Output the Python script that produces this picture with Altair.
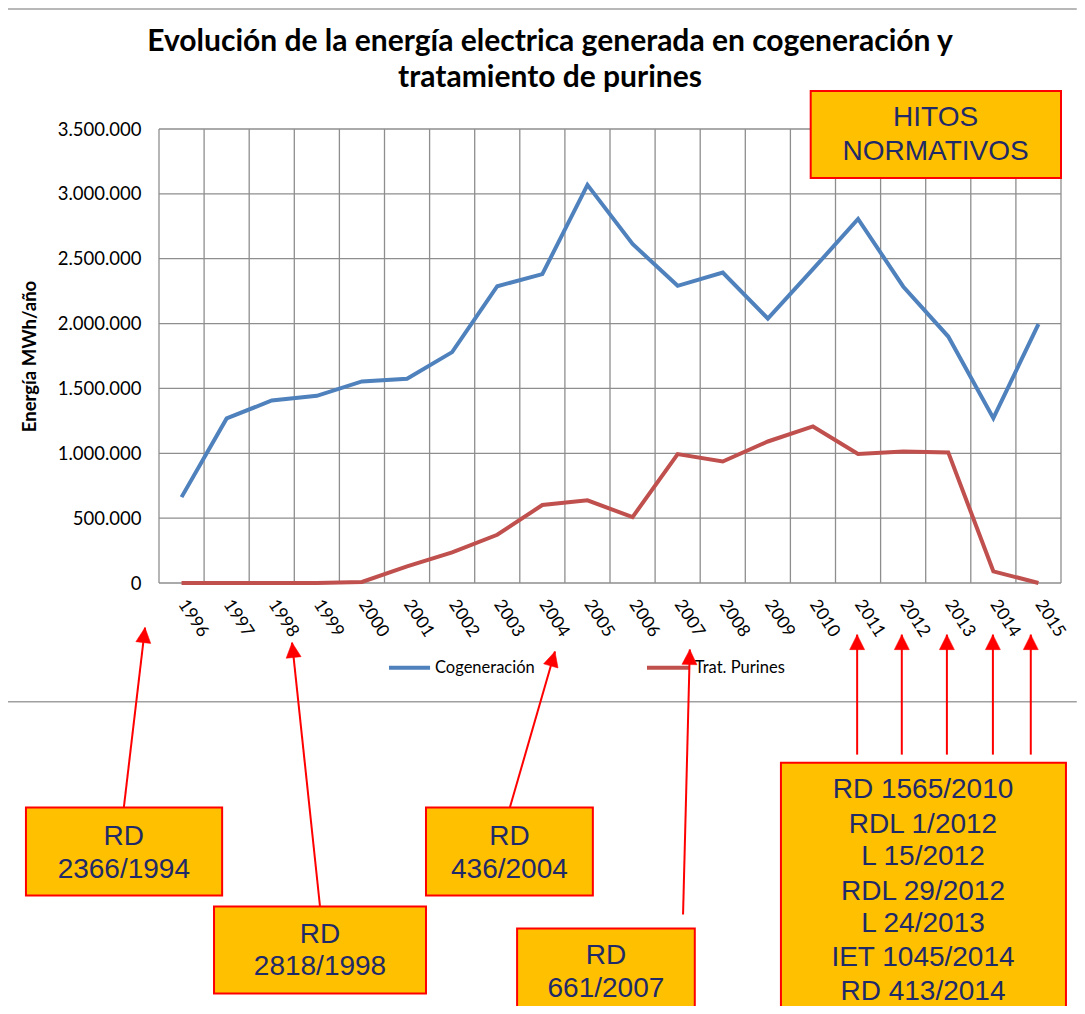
import altair as alt
import pandas as pd

# ---------------- data ----------------
years = list(range(1996, 2016))
cogeneracion = [662000, 1269000, 1407000, 1443000, 1554000, 1574000, 1780000, 2288000,
                2381000, 3069000, 2614000, 2291000, 2393000, 2039000, 2419000, 2807000,
                2286000, 1900000, 1271000, 1995000]
purines = [0, 0, 0, 0, 8000, 128000, 236000, 372000, 601000, 637000, 508000, 994000,
           937000, 1091000, 1207000, 994000, 1014000, 1007000, 90000, 0]
series_names = ["Cogeneración", "Trat. Purines"]
series_colors = ["#4F81BD", "#C0504D"]
y_ticks = [0, 500000, 1000000, 1500000, 2000000, 2500000, 3000000, 3500000]
title_lines = ["Evolución de la energía electrica generada en cogeneración y",
               "tratamiento de purines"]
title_x = 2004.17
title_y = [4171000, 3894000]

# annotation boxes (positions in chart units: year, MWh)
box_x1 = [2009.95, 1992.55, 1996.72, 2001.42, 2003.44, 2009.29]
box_x2 = [2015.50, 1996.90, 2001.42, 2005.12, 2007.38, 2015.61]
box_y1 = [3793000, -1731000, -2494000, -1731000, -2663000, -1385000]
box_y2 = [3122000, -2409000, -3164000, -2409000, -3450000, -3450000]

box_text = ["HITOS", "NORMATIVOS",
            "RD", "2366/1994",
            "RD", "2818/1998",
            "RD", "436/2004",
            "RD", "661/2007",
            "RD 1565/2010", "RDL 1/2012", "L 15/2012", "RDL 29/2012",
            "L 24/2013", "IET 1045/2014", "RD 413/2014"]
box_text_x = [2012.72, 2012.72, 1994.72, 1994.72, 1999.07, 1999.07, 2003.27, 2003.27,
              2005.41, 2005.41] + [2012.44] * 7
box_text_y = [3585000, 3323000, -1955000, -2209000, -2710000, -2964000, -1955000, -2209000,
              -2879000, -3133000, -1593000, -1863000, -2110000, -2379000, -2626000,
              -2888000, -3150000]

# arrows: base -> tip
arrow_base_x = [1994.72, 1999.07, 2003.28, 2007.12, 2010.98, 2011.97, 2012.97, 2013.99, 2014.83]
arrow_base_y = [-1731000, -2494000, -1731000, -2556000, -1323000, -1323000, -1323000, -1323000, -1323000]
arrow_tip_x = [1995.19, 1998.45, 2004.28, 2007.27, 2010.98, 2011.97, 2012.97, 2013.99, 2014.83]
arrow_tip_y = [-344000, -459000, -528000, -513000, -398000, -398000, -398000, -398000, -398000]
arrow_angle = [6.6, 353.9, 16.1, 1.5, 0, 0, 0, 0, 0]

# legend placement (chart units)
legend_x1 = [2000.60, 2006.32]
legend_x2 = [2001.51, 2007.27]
legend_text_x = [2001.62, 2007.38]
legend_y = -653000

# separator lines
sep_x1, sep_x2 = 1992.15, 2015.85
sep_y = [-915000, 4425000]

# ---------------- tables ----------------
df = pd.DataFrame({
    "year": years * 2,
    "value": cogeneracion + purines,
    "serie": [series_names[0]] * len(years) + [series_names[1]] * len(years),
})
boxes = pd.DataFrame({"x1": box_x1, "x2": box_x2, "y1": box_y1, "y2": box_y2})
texts = pd.DataFrame({"x": box_text_x, "y": box_text_y, "t": box_text})
titles = pd.DataFrame({"x": [title_x] * 2, "y": title_y, "t": title_lines})
arrows = pd.DataFrame({"bx": arrow_base_x, "by": arrow_base_y, "tx": arrow_tip_x,
                       "ty": arrow_tip_y, "a": arrow_angle})
leg = pd.DataFrame({"serie": series_names, "x1": legend_x1, "x2": legend_x2,
                    "tx": legend_text_x, "y": [legend_y] * 2})
vgrid = pd.DataFrame({"g": [y - 0.5 for y in years] + [years[-1] + 0.5]})
hgrid = pd.DataFrame({"v": y_ticks})
seps = pd.DataFrame({"x1": [sep_x1] * 2, "x2": [sep_x2] * 2, "y": sep_y})

# ---------------- scales & axes (shared by every layer) ----------------
FONT = "Lato"
BOXFONT = "Liberation Sans"
GRID = "#8E8E8E"
NAVY = "#1F2A68"

xs = alt.Scale(domain=[1995.5, 2015.5], nice=False, zero=False)
ys = alt.Scale(domain=[0, 3500000], nice=False, zero=False)
cs = alt.Scale(domain=series_names, range=series_colors)

x_axis = alt.Axis(values=years, format="d", labelAngle=57, labelAlign="left",
                  labelBaseline="middle", ticks=False, domain=False, grid=False,
                  title=None, labelFont=FONT, labelFontSize=17.5, labelColor="black",
                  labelPadding=18, labelOverlap=False, labelFlush=False)
y_axis = alt.Axis(values=y_ticks,
                  labelExpr="replace(replace(format(datum.value, ','), ',', '.'), ',', '.')",
                  ticks=False, domain=False, grid=False,
                  title="Energía MWh/año", titleFont=FONT, titleFontSize=18.5,
                  titleFontWeight="bold", titleColor="black", titlePadding=18,
                  labelFont=FONT, labelFontSize=18.5, labelColor="black",
                  labelPadding=18, labelFlush=False)


def X(field):
    return alt.X(field, scale=xs, axis=x_axis)


def Y(field):
    return alt.Y(field, scale=ys, axis=y_axis)


grid_v = alt.Chart(vgrid).mark_rule(color=GRID, strokeWidth=1.3).encode(x=X("g:Q"))
grid_h = alt.Chart(hgrid).mark_rule(color=GRID, strokeWidth=1.3).encode(y=Y("v:Q"))

lines = alt.Chart(df).mark_line(strokeWidth=4).encode(
    x=X("year:Q"), y=Y("value:Q"),
    color=alt.Color("serie:N", scale=cs, legend=None),
    detail="serie:N",
)

sep_lines = alt.Chart(seps).mark_rule(color="#A0A0A0", strokeWidth=1.5).encode(
    x=X("x1:Q"), x2="x2:Q", y=Y("y:Q"))

leg_lines = alt.Chart(leg).mark_rule(strokeWidth=4).encode(
    x=X("x1:Q"), x2="x2:Q", y=Y("y:Q"),
    color=alt.Color("serie:N", scale=cs, legend=None))
leg_text = alt.Chart(leg).mark_text(align="left", baseline="middle", font=FONT,
                                    fontSize=16.5, color="black").encode(
    x=X("tx:Q"), y=Y("y:Q"), text="serie:N")

arrow_lines = alt.Chart(arrows).mark_rule(color="#FF0000", strokeWidth=2).encode(
    x=X("bx:Q"), x2="tx:Q", y=Y("by:Q"), y2="ty:Q")
arrow_heads = alt.Chart(arrows).mark_point(
    shape="M0,0L-1,2L1,2Z", filled=True, fill="#FF0000", stroke="#FF0000",
    strokeWidth=0.5, size=225, opacity=1).encode(
    x=X("tx:Q"), y=Y("ty:Q"), angle=alt.Angle("a:Q", scale=None))

box_rects = alt.Chart(boxes).mark_rect(fill="#FFC000", stroke="#FF0000", strokeWidth=2).encode(
    x=X("x1:Q"), x2="x2:Q", y=Y("y1:Q"), y2="y2:Q")
box_texts = alt.Chart(texts).mark_text(font=BOXFONT, fontSize=28, color=NAVY,
                                       align="center", baseline="middle").encode(
    x=X("x:Q"), y=Y("y:Q"), text="t:N")

title_text = alt.Chart(titles).mark_text(font=FONT, fontSize=30, fontWeight="bold",
                                         color="black", align="center",
                                         baseline="middle").encode(
    x=X("x:Q"), y=Y("y:Q"), text="t:N")

chart = alt.layer(
    grid_v, grid_h, lines, sep_lines, leg_lines, leg_text,
    arrow_lines, arrow_heads, box_rects, box_texts, title_text
).properties(
    width=902, height=454,
    autosize=alt.AutoSizeParams(type="none"),
    padding={"left": 151, "top": 121, "right": 16, "bottom": 423},
    background="white",
).configure_view(strokeWidth=0)

chart.save("out.html", embed_options={"renderer": "svg", "actions": False})
